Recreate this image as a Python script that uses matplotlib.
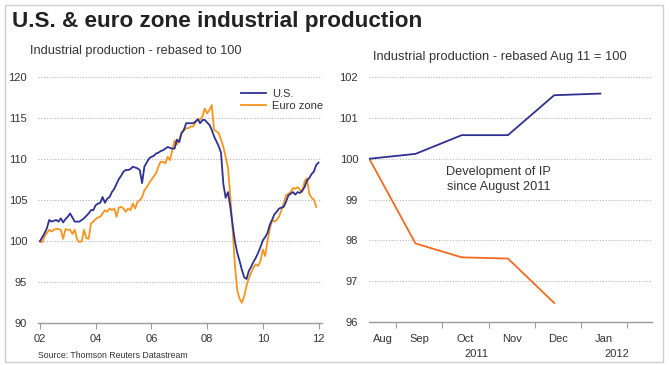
import matplotlib
matplotlib.use("Agg")
import matplotlib.pyplot as plt
import numpy as np
from matplotlib.transforms import blended_transform_factory

plt.rcParams['font.family'] = ['Liberation Sans Narrow', 'Liberation Sans', 'DejaVu Sans']

# ---------------- data ----------------
# Monthly index, Jan 2002 = 100 (US: Jan 2002 - Jan 2012)
us_values = [
    100.0, 100.5, 101.0, 101.6, 102.6, 102.4, 102.5, 102.6, 102.4, 102.8, 102.3, 102.7,
    103.0, 103.4, 102.9, 102.4, 102.4, 102.4, 102.6, 102.8, 103.1, 103.4, 103.8, 103.8,
    104.4, 104.6, 104.7, 105.4, 104.7, 105.2, 105.4, 106.0, 106.4, 107.0, 107.6, 108.0,
    108.5, 108.7, 108.7, 108.8, 109.1, 109.0, 108.9, 108.7, 107.1, 109.1, 109.6, 110.1,
    110.3, 110.4, 110.7, 110.8, 111.0, 111.1, 111.3, 111.5, 111.4, 111.3, 111.3, 112.4,
    112.1, 113.2, 113.6, 114.4, 114.4, 114.4, 114.4, 114.6, 114.9, 114.4, 114.8, 114.8,
    114.5, 114.2, 113.6, 112.8, 112.2, 111.6, 110.8, 107.0, 105.3, 106.0, 104.2, 102.0,
    100.0, 98.6, 97.6, 96.5, 95.6, 95.4, 96.4, 96.9, 97.5, 98.0, 98.6, 99.3,
    100.1, 100.5, 101.0, 102.0, 102.6, 103.3, 103.6, 104.0, 104.1, 104.2, 104.8, 105.6,
    105.8, 106.0, 105.7, 106.0, 105.9, 106.2, 106.6, 107.4, 107.7, 108.2, 108.5, 109.3,
    109.6,
]
# Euro zone: Jan 2002 - Dec 2011
euro_values = [
    100.0, 99.9, 100.6, 101.0, 101.4, 101.2, 101.4, 101.5, 101.5, 101.4, 100.3, 101.5,
    101.4, 101.4, 100.9, 101.4, 100.2, 99.9, 100.0, 101.4, 100.4, 100.3, 102.2, 102.4,
    102.7, 102.9, 103.0, 103.4, 103.8, 103.6, 104.0, 103.8, 104.0, 103.0, 104.1, 104.2,
    104.0, 103.6, 104.0, 103.8, 104.6, 104.0, 104.8, 105.0, 105.4, 106.2, 106.6, 107.1,
    107.5, 107.9, 108.3, 109.1, 109.7, 109.7, 109.5, 110.3, 109.9, 111.1, 112.3, 111.8,
    112.4, 113.2, 113.5, 113.8, 113.8, 114.0, 114.0, 114.5, 114.8, 114.9, 115.2, 116.2,
    115.6, 116.0, 116.6, 113.6, 113.4, 113.2, 112.4, 111.5, 110.3, 109.0, 105.5, 101.5,
    97.0, 94.0, 93.0, 92.5, 93.3, 94.6, 95.5, 96.2, 96.8, 97.2, 97.0, 97.6,
    99.0, 98.2, 100.0, 101.5, 102.6, 102.4, 102.6, 103.0, 103.8, 104.6, 105.6, 105.8,
    106.0, 106.5, 106.4, 106.6, 106.3, 106.0, 107.3, 107.7, 105.8, 105.3, 105.1, 104.2,
]
left_xticklabels = ['02', '04', '06', '08', '10', '12']
left_yticks = [90, 95, 100, 105, 110, 115, 120]

# Rebased Aug 2011 = 100
months = ['Aug', 'Sep', 'Oct', 'Nov', 'Dec', 'Jan']
us_recent = [100.0, 100.12, 100.58, 100.58, 101.56, 101.6]
euro_recent = [100.0, 97.92, 97.58, 97.55, 96.46]
years = ['2011', '2012']
right_yticks = [96, 97, 98, 99, 100, 101, 102]

BLUE = '#2e3192'
ORANGE_L = '#f7941d'
ORANGE_R = '#f26a21'
TXT = '#333333'
GRID = '#b5b5b5'
AXC = '#9a9a9a'

W, H = 669, 365
fig = plt.figure(figsize=(W / 100, H / 100), dpi=100)
fig.patch.set_facecolor('white')

def fx(px):
    return px / W

def fy(py):
    return 1 - py / H

# border
fig.add_artist(plt.Rectangle((fx(5), fy(362)), fx(658), 357 / H, transform=fig.transFigure,
                             fill=False, edgecolor='#cfcfcf', linewidth=1.0))

fig.text(fx(12), fy(21), 'U.S. & euro zone industrial production', fontsize=16.2,
         fontweight='bold', color='#222222', va='center', ha='left')
fig.text(fx(30), fy(51), 'Industrial production - rebased to 100', fontsize=9.2,
         color=TXT, va='center', ha='left')
fig.text(fx(373), fy(57), 'Industrial production - rebased Aug 11 = 100', fontsize=9.3,
         color=TXT, va='center', ha='left')
fig.text(fx(38), fy(356), 'Source: Thomson Reuters Datastream', fontsize=6.3,
         color=TXT, va='center', ha='left')

# ---------------- left chart ----------------
axL = fig.add_axes([fx(38.3), fy(323.3), fx(322 - 38.3), (323.3 - 77.3) / H])
xm_us = np.arange(len(us_values))
xm_eu = np.arange(len(euro_values))
axL.plot(xm_eu, euro_values, color=ORANGE_L, lw=1.3, label='Euro zone', zorder=3)
axL.plot(xm_us, us_values, color=BLUE, lw=1.3, label='U.S.', zorder=4)
axL.set_xlim(-0.7, 121.5)
axL.set_ylim(90, 120)
axL.set_yticks(left_yticks)
axL.set_xticks(np.arange(len(left_xticklabels)) * 24)
axL.set_xticklabels(left_xticklabels)
for s in ['top', 'right', 'left']:
    axL.spines[s].set_visible(False)
axL.spines['bottom'].set_color(AXC)
axL.spines['bottom'].set_linewidth(1.0)
axL.tick_params(axis='y', length=0, pad=8, labelsize=8, labelcolor=TXT)
axL.tick_params(axis='x', length=4, color=AXC, pad=4, labelsize=8, labelcolor=TXT)
for v in left_yticks[1:]:
    axL.axhline(v, color=GRID, lw=0.8, ls=(0, (1, 1.5)), zorder=1)
h, l = axL.get_legend_handles_labels()
leg = axL.legend([h[1], h[0]], [l[1], l[0]], loc='upper left', bbox_to_anchor=(0.715, 0.953),
                 frameon=False, fontsize=8.0, handlelength=2.2, handletextpad=0.6,
                 labelspacing=0.15, borderpad=0, borderaxespad=0)
for t in leg.get_texts():
    t.set_color(TXT)

# ---------------- right chart ----------------
axR = fig.add_axes([fx(369.3), fy(321.7), fx(651.7 - 369.3), (321.7 - 77.3) / H])
axR.plot(np.arange(len(us_recent)), us_recent, color=BLUE, lw=1.3, zorder=4)
axR.plot(np.arange(len(euro_recent)), euro_recent, color=ORANGE_R, lw=1.3, zorder=3)
axR.set_xlim(0, 6.11)
axR.set_ylim(96, 102)
axR.set_yticks(right_yticks)
for s in ['top', 'right', 'left']:
    axR.spines[s].set_visible(False)
axR.spines['bottom'].set_color(AXC)
axR.spines['bottom'].set_linewidth(1.0)
axR.tick_params(axis='y', length=0, pad=8, labelsize=8, labelcolor=TXT)
axR.set_xticks(np.arange(len(months)) + 0.58)
axR.tick_params(axis='x', length=4, color=AXC, labelbottom=False)
for v in right_yticks[1:]:
    axR.axhline(v, color=GRID, lw=0.8, ls=(0, (1, 1.5)), zorder=1)
tr = blended_transform_factory(axR.transData, fig.transFigure)
for i, m in enumerate(months):
    off = 0.3 if i == 0 else 0.08
    axR.text(i + off, fy(339), m, transform=tr, ha='center', va='center',
             fontsize=8, color=TXT)
axR.text(2.31, fy(354), years[0], transform=tr, ha='center', va='center', fontsize=8, color=TXT)
axR.text(5.36, fy(354), years[1], transform=tr, ha='center', va='center', fontsize=8, color=TXT)
axR.text(2.8, 99.49, 'Development of IP\nsince August 2011', ha='center', va='center',
         fontsize=9.2, color=TXT, linespacing=1.4)

fig.savefig('out.png', dpi=100, facecolor='white')
